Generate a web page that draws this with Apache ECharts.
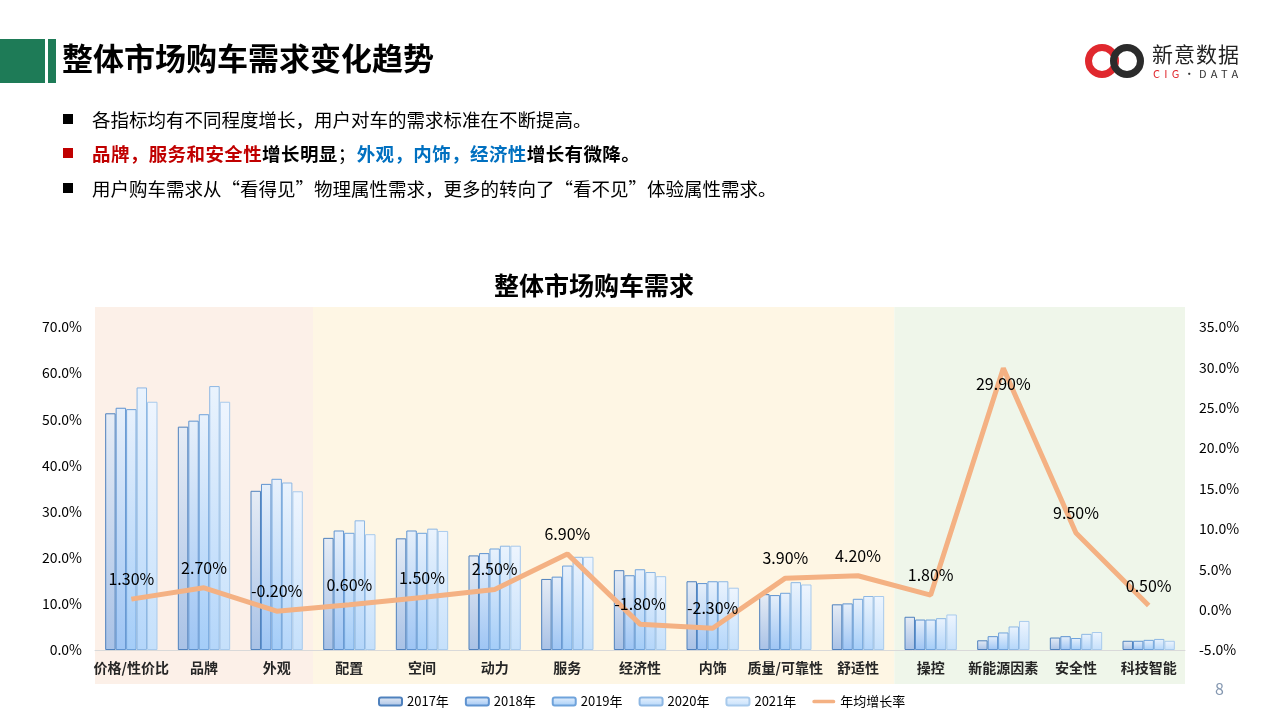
<!DOCTYPE html>
<html><head><meta charset="utf-8">
<script src="https://cdn.jsdelivr.net/npm/echarts@6/dist/echarts.min.js"></script>
<style>
html,body{margin:0;padding:0;background:#fff;width:1280px;height:720px;overflow:hidden;font-family:"Noto Sans CJK SC","Noto Sans",sans-serif;}
#chart{position:absolute;left:0;top:0;width:1280px;height:720px;}
.ov{position:absolute;z-index:5;white-space:nowrap;}
.sq{position:absolute;width:10px;height:10px;z-index:5;}
.bt{position:absolute;left:92px;font-size:18.5px;line-height:24px;color:#000;white-space:nowrap;z-index:5;}
.ring{position:absolute;width:34px;height:34px;border-radius:50%;box-sizing:border-box;border:7px solid;z-index:5;}
</style></head>
<body>
<div id="chart"></div>
<div class="ov" style="left:0;top:39px;width:45px;height:44px;background:#1E7B57"></div>
<div class="ov" style="left:48px;top:39px;width:8px;height:44px;background:#1E7B57"></div>
<div class="ov" style="left:62px;top:37px;font-size:31px;line-height:40px;font-weight:bold;color:#000">整体市场购车需求变化趋势</div>
<div class="sq" style="left:63px;top:114px;background:#000"></div>
<div class="bt" style="top:107px">各指标均有不同程度增长，用户对车的需求标准在不断提高。</div>
<div class="sq" style="left:63px;top:148px;background:#C00000"></div>
<div class="bt" style="top:141px;font-weight:bold;letter-spacing:0.4px"><span style="color:#C00000">品牌，服务和安全性</span>增长明显<span style="font-weight:normal">；</span><span style="color:#0070C0">外观，内饰，经济性</span>增长有微降。</div>
<div class="sq" style="left:63px;top:183px;background:#000"></div>
<div class="bt" style="top:176px">用户购车需求从“看得见”物理属性需求，更多的转向了“看不见”体验属性需求。</div>
<div class="ring" style="left:1085px;top:44px;border-color:#E0282E"></div>
<div class="ring" style="left:1110px;top:44px;border-color:#2B2B2B"></div>
<div class="ov" style="left:1152px;top:40px;font-size:21px;line-height:26px;color:#222;letter-spacing:1px">新意数据</div>
<div class="ov" style="left:1153px;top:66px;font-size:11px;line-height:14px;letter-spacing:4.3px"><span style="color:#E0282E">CIG</span><span style="color:#333">·DATA</span></div>
<div class="ov" style="left:1215px;top:677px;font-size:16px;line-height:22px;color:#8497B0">8</div>
<script>
const categories = ['价格/性价比','品牌','外观','配置','空间','动力','服务','经济性','内饰','质量/可靠性','舒适性','操控','新能源因素','安全性','科技智能'];
const years = ['2017年','2018年','2019年','2020年','2021年'];
const y2017 = [51.3,48.4,34.5,24.3,24.2,20.5,15.4,17.3,14.9,12.1,9.9,7.2,2.1,2.7,2.0];
const y2018 = [52.5,49.7,36.0,25.9,25.9,21.0,15.9,16.2,14.5,11.9,10.1,6.6,3.0,3.0,2.0];
const y2019 = [52.2,51.1,37.1,25.4,25.4,22.0,18.3,17.5,14.9,12.4,11.1,6.6,3.8,2.6,2.2];
const y2020 = [56.9,57.2,36.3,28.1,26.3,22.6,20.2,16.9,14.9,14.7,11.7,6.9,5.1,3.5,2.4];
const y2021 = [53.8,53.8,34.4,25.1,25.8,22.6,20.2,16.0,13.5,14.2,11.7,7.7,6.3,3.9,2.0];
const growthName = '年均增长率';
const growth = [1.3,2.7,-0.2,0.6,1.5,2.5,6.9,-1.8,-2.3,3.9,4.2,1.8,29.9,9.5,0.5];
const bandColors = ['#FCF0E8','#FCF0E8','#FCF0E8','#FEF6E4','#FEF6E4','#FEF6E4','#FEF6E4','#FEF6E4','#FEF6E4','#FEF6E4','#FEF6E4','#EFF6EA','#EFF6EA','#EFF6EA','#EFF6EA'];

const yearData = [y2017,y2018,y2019,y2020,y2021];
const barStyles = [
  {border:'#4F81BD', top:'#E6ECF5', bottom:'#A9C2E6'},
  {border:'#5F93D0', top:'#E6EFFA', bottom:'#9EC5F4'},
  {border:'#6FA3DB', top:'#E8F1FC', bottom:'#A4CDF8'},
  {border:'#8DB7E3', top:'#EAF3FD', bottom:'#B4D6FA'},
  {border:'#A8CAEC', top:'#EEF5FE', bottom:'#C5E0FB'}
];
const font = '"Noto Sans CJK SC","Noto Sans",sans-serif';

const chart = echarts.init(document.getElementById('chart'), null, {renderer:'canvas'});
const barSeries = years.map((y,i)=>({
  name:y, type:'bar', xAxisIndex:0, yAxisIndex:0,
  data:yearData[i], barGap:'0%', barCategoryGap:'28%',
  itemStyle:{
    borderColor:barStyles[i].border, borderWidth:1,
    color:new echarts.graphic.LinearGradient(0,0,0,1,[
      {offset:0,color:barStyles[i].top},{offset:1,color:barStyles[i].bottom}])
  },
  z:2
}));
const maxG = Math.max(...growth);
const lineSeries = {
  name:growthName, type:'line', xAxisIndex:0, yAxisIndex:1,
  data:growth.map(v=>v===maxG?{value:v,label:{position:'bottom',distance:8}}:v),
  symbol:'circle', symbolSize:0.1, showSymbol:true,
  lineStyle:{color:'#F4B183',width:5}, itemStyle:{color:'#F4B183'},
  label:{show:true,position:'top',distance:12,color:'#000',fontSize:16,fontFamily:font,
    formatter:p=>Number(p.value).toFixed(2)+'%'},
  labelLayout:{hideOverlap:false},
  z:5
};

chart.setOption({
  animation:false,
  textStyle:{fontFamily:font},
  title:{text:'整体市场购车需求',left:589,top:268,textAlign:'center',
    textStyle:{fontSize:25,fontWeight:'bold',color:'#000',fontFamily:font}},
  legend:{
    data:[...years,{name:growthName,icon:'path://M2,0 L44,0 A2,2 0 0 1 44,8 L2,8 A2,2 0 0 1 2,0 Z'}],
    left:373, top:690, itemWidth:23, itemHeight:8, itemGap:16,
    textStyle:{fontSize:13,color:'#000',fontFamily:font}
  },
  grid:[
    {left:95,right:95,top:327,bottom:70},
    {left:95,right:95,top:307,bottom:36}
  ],
  xAxis:[
    {type:'category',gridIndex:0,data:categories,boundaryGap:true,
      axisLine:{lineStyle:{color:'#D9D9D9',width:1}},axisTick:{show:false},
      axisLabel:{interval:0,margin:11,fontSize:14,fontWeight:'bold',color:'#262626',fontFamily:font}},
    {type:'category',gridIndex:1,data:categories,boundaryGap:true,
      axisLine:{show:false},axisTick:{show:false},axisLabel:{show:false},splitLine:{show:false},
      splitArea:{show:true,interval:0,areaStyle:{color:bandColors}}}
  ],
  yAxis:[
    {type:'value',gridIndex:0,min:0,max:70,interval:10,position:'left',
      axisLine:{show:false},axisTick:{show:false},splitLine:{show:false},
      axisLabel:{margin:13,fontSize:14,color:'#000',fontFamily:font,formatter:v=>v.toFixed(1)+'%'}},
    {type:'value',gridIndex:0,min:-5,max:35,interval:5,position:'right',
      axisLine:{show:false},axisTick:{show:false},splitLine:{show:false},
      axisLabel:{margin:14,fontSize:14,color:'#000',fontFamily:font,formatter:v=>v.toFixed(1)+'%'}},
    {type:'value',gridIndex:1,show:false,min:0,max:1}
  ],
  series:[...barSeries, lineSeries,
    {type:'line',xAxisIndex:1,yAxisIndex:2,data:[],silent:true}]
});
</script>
</body></html>
